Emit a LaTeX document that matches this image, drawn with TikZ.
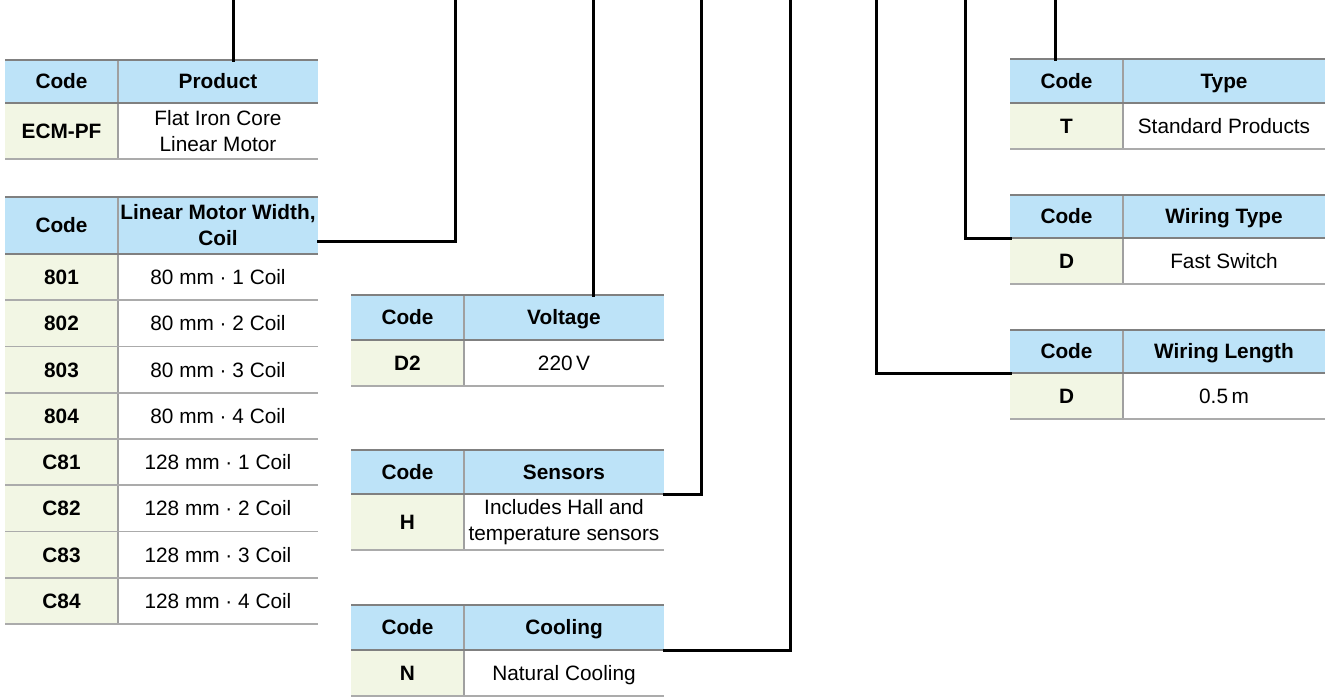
\documentclass[tikz,border=0pt]{standalone}
\usepackage{fontspec}
\setmainfont{Liberation Sans}
\definecolor{hdrblue}{HTML}{BDE3F8}
\definecolor{codegreen}{HTML}{F2F6E4}
\definecolor{topgray}{HTML}{808080}
\definecolor{rowgray}{HTML}{ABABAB}
\definecolor{divgray}{HTML}{A0A0A0}
\tikzset{
  cell/.style={inner sep=0pt, outer sep=0pt, anchor=north west, align=center,
    font=\fontsize{20.8}{26}\selectfont},
  hcell/.style={cell, fill=hdrblue, font=\fontsize{20.8}{26}\selectfont\bfseries},
  ccell/.style={cell, fill=codegreen, font=\fontsize{20.8}{26}\selectfont\bfseries},
  vcell/.style={cell, fill=white},
  one/.style={text height=14.9pt, text depth=0pt},
  multi/.style={},
  topline/.style={draw=topgray, line width=2.2pt},
  hline/.style={draw=topgray, line width=2pt},
  rline/.style={draw=rowgray, line width=1.6pt},
  vline/.style={draw=divgray, line width=1.6pt},
  conn/.style={draw=black, line width=3pt, line cap=rect},
}
% header: id, x0, xd, x1, ytop, ybot, header text, header style
\newcommand\thead[8]{%
  \node[hcell, one, minimum width={(#3-#2)*1pt}, minimum height={(#6-#5)*1pt}] (#1hc) at (#2,#5) {Code};
  \node[hcell, #8, minimum width={(#4-#3)*1pt}, minimum height={(#6-#5)*1pt}] (#1hv) at (#3,#5) {#7};
}
% row: id, x0, xd, x1, ytop, ybot, code, value, value style
\newcommand\trow[9]{%
  \node[ccell, one, minimum width={(#3-#2)*1pt}, minimum height={(#6-#5)*1pt}] (#1c) at (#2,#5) {#7};
  \node[vcell, #9, minimum width={(#4-#3)*1pt}, minimum height={(#6-#5)*1pt}] (#1v) at (#3,#5) {#8};
}
% lines: x0, xd, x1, ytop, yheadbottom, list of row bottoms, ybottom
\newcommand\tlines[7]{%
  \draw[vline] (#2,#4) -- (#2,#7);
  \draw[hline] (#1,#5) -- (#3,#5);
  \foreach \yy in {#6} {\draw[rline] (#1,\yy) -- (#3,\yy);}
  \draw[topline] (#1,#4) -- (#3,#4);
}
\begin{document}
\begin{tikzpicture}[x=1pt, y=-1pt]
\useasboundingbox (0,0) rectangle (1327,697);

% ---------- Product ----------
\thead{p}{5}{118}{318}{60}{103}{Product}{one}
\trow{pr}{5}{118}{318}{103}{159}{ECM-PF}{Flat Iron Core\\Linear Motor}{multi}
\tlines{5}{118}{318}{60}{103}{159}{159}

% ---------- Width ----------
\thead{w}{5}{118}{318}{197}{254}{Linear Motor Width,\\Coil}{multi}
\foreach \c/\v [count=\i from 0] in {801/{80 mm · 1 Coil},802/{80 mm · 2 Coil},803/{80 mm · 3 Coil},804/{80 mm · 4 Coil},C81/{128 mm · 1 Coil},C82/{128 mm · 2 Coil},C83/{128 mm · 3 Coil},C84/{128 mm · 4 Coil}}{
  \pgfmathsetmacro\ya{254+46.25*\i}
  \pgfmathsetmacro\yb{\ya+46.25}
  \trow{w\i}{5}{118}{318}{\ya}{\yb}{\c}{\v}{one}
}
\tlines{5}{118}{318}{197}{254}{300.25,346.5,392.75,439,485.25,531.5,577.75,624}{624}

% ---------- Voltage ----------
\thead{v}{351}{464}{664}{295}{340}{Voltage}{one}
\trow{vr}{351}{464}{664}{340}{386}{D2}{220\,V}{one}
\tlines{351}{464}{664}{295}{340}{386}{386}

% ---------- Sensors ----------
\thead{s}{351}{464}{664}{450}{494}{Sensors}{one}
\trow{sr}{351}{464}{664}{494}{550}{H}{Includes Hall and\\temperature sensors}{multi}
\tlines{351}{464}{664}{450}{494}{550}{550}

% ---------- Cooling ----------
\thead{c}{351}{464}{664}{605}{650}{Cooling}{one}
\trow{cr}{351}{464}{664}{650}{696}{N}{Natural Cooling}{one}
\tlines{351}{464}{664}{605}{650}{696}{696}

% ---------- Type ----------
\thead{t}{1010}{1123}{1325}{59}{103}{Type}{one}
\trow{tr}{1010}{1123}{1325}{103}{149}{T}{Standard Products}{one}
\tlines{1010}{1123}{1325}{59}{103}{149}{149}

% ---------- Wiring Type ----------
\thead{wt}{1010}{1123}{1325}{195}{238}{Wiring Type}{one}
\trow{wtr}{1010}{1123}{1325}{238}{284}{D}{Fast Switch}{one}
\tlines{1010}{1123}{1325}{195}{238}{284}{284}

% ---------- Wiring Length ----------
\thead{wl}{1010}{1123}{1325}{330}{373}{Wiring Length}{one}
\trow{wlr}{1010}{1123}{1325}{373}{419}{D}{0.5\,m}{one}
\tlines{1010}{1123}{1325}{330}{373}{419}{419}

% ---------- Connectors ----------
\coordinate (k1) at (233,0);
\coordinate (k2) at (455,0);
\coordinate (k3) at (593,0);
\coordinate (k4) at (701,0);
\coordinate (k5) at (790,0);
\coordinate (k6) at (876,0);
\coordinate (k7) at (965,0);
\coordinate (k8) at (1055,0);
\draw[conn] (k1) -- (k1 |- phv.north);
\draw[conn] ([yshift=-15.5pt]whv.east) -| (k2);
\draw[conn] (k3) -- (k3 |- vhv.north);
\draw[conn] (shv.south east) -| (k4);
\draw[conn] (chv.south east) -| (k5);
\draw[conn] (wlhc.south west) -| (k6);
\draw[conn] (wthc.south west) -| (k7);
\draw[conn] (k8) -- (k8 |- thc.north);
\end{tikzpicture}
\end{document}
